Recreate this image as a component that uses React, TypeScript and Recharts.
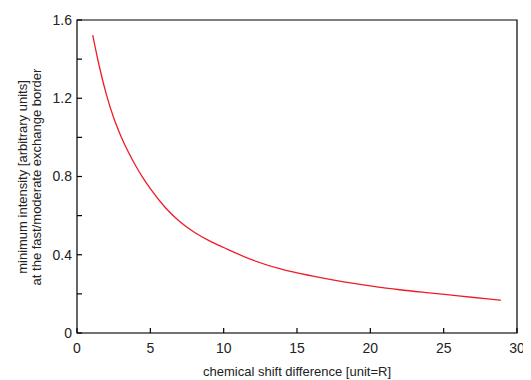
import { LineChart, Line, XAxis, YAxis, ReferenceArea } from "recharts"

const shift = [1.07, 1.5, 2, 2.5, 3, 3.5, 4, 4.5, 5, 6, 7, 8, 9, 10, 12, 14, 16, 18, 20, 22, 24, 26, 28, 28.9]
const intensity = [1.523, 1.37, 1.22, 1.1, 1.005, 0.925, 0.855, 0.793, 0.738, 0.643, 0.57, 0.515, 0.472, 0.437, 0.372, 0.325, 0.292, 0.264, 0.241, 0.221, 0.205, 0.19, 0.174, 0.167]

const xTicks = [0, 5, 10, 15, 20, 25, 30]
const yTicks = [0, 0.2, 0.4, 0.6, 0.8, 1.0, 1.2, 1.4, 1.6]

const data = shift.map((x, i) => ({ x, y: intensity[i] }))

const font = "'Liberation Sans', Arial, sans-serif"
const ink = "black"
const TICK = 5

const yLabel = (v: number) => {
  const k = Math.round(v * 10)
  if (k % 4 !== 0) return ""
  return k === 0 ? "0" : v.toFixed(1)
}

// ticks point inward, matlab style
const BottomTick = (p: any) => (
  <g>
    <path d={`M${p.x},${p.y - 10}v${-TICK}`} style={{ stroke: ink, strokeWidth: 1.2 }} fill="none" />
    <text x={p.x} y={p.y} dy="0.71em" textAnchor="middle" fontSize={14} fontFamily={font} fill="#222">
      {p.payload.value}
    </text>
  </g>
)

const TopTick = (p: any) => <path d={`M${p.x},${p.y}v${TICK}`} style={{ stroke: ink, strokeWidth: 1.2 }} fill="none" />

const LeftTick = (p: any) => (
  <g>
    <path d={`M${p.x + 5},${p.y}h${TICK}`} style={{ stroke: ink, strokeWidth: 1.2 }} fill="none" />
    <text x={p.x} y={p.y} dy="0.355em" textAnchor="end" fontSize={14} fontFamily={font} fill="#222">
      {yLabel(p.payload.value)}
    </text>
  </g>
)

const RightTick = (p: any) => <path d={`M${p.x - TICK},${p.y}h${TICK}`} style={{ stroke: ink, strokeWidth: 1.2 }} fill="none" />

const YTitle = () => (
  <g fontFamily={font} fontSize={13} fill="#222">
    <text transform="translate(22,177) rotate(-90)" textAnchor="middle" dominantBaseline="central">
      minimum intensity [arbitrary units]
    </text>
    <text transform="translate(36,177) rotate(-90)" textAnchor="middle" dominantBaseline="central">
      at the fast/moderate exchange border
    </text>
  </g>
)

export default function App() {
  return (
    <div style={{ marginLeft: -8, marginTop: -8, width: 531, height: 380, background: "#fff" }}>
      <LineChart width={531} height={380} data={data} margin={{ top: 20, right: 14, bottom: 0, left: 0 }}>
        <XAxis
          xAxisId="bottom"
          dataKey="x"
          type="number"
          domain={[0, 30]}
          ticks={xTicks}
          interval={0}
          height={47}
          tickSize={0}
          tickMargin={10}
          tickLine={false}
          axisLine
          tick={BottomTick}
          label={{ value: "chemical shift difference [unit=R]", position: "insideBottom", offset: 4, fill: "#222", fontSize: 13, fontFamily: font }}
        />
        <XAxis
          xAxisId="top"
          orientation="top"
          dataKey="x"
          type="number"
          domain={[0, 30]}
          ticks={xTicks}
          interval={0}
          height={0}
          tickSize={0}
          tickMargin={0}
          tickLine={false}
          axisLine
          tick={TopTick}
        />
        <YAxis
          yAxisId="left"
          type="number"
          domain={[0, 1.6]}
          ticks={yTicks}
          interval={0}
          width={77}
          tickSize={0}
          tickMargin={5}
          tickLine={false}
          axisLine
          tick={LeftTick}
          label={{ content: () => <YTitle /> }}
        />
        <YAxis
          yAxisId="right"
          orientation="right"
          type="number"
          domain={[0, 1.6]}
          ticks={yTicks}
          interval={0}
          width={0}
          tickSize={0}
          tickMargin={0}
          tickLine={false}
          axisLine
          tick={RightTick}
        />
        <ReferenceArea
          xAxisId="bottom"
          yAxisId="left"
          x1={0}
          x2={30}
          y1={0}
          y2={1.6}
          fill="none"
          stroke="#000000"
          strokeWidth={1.2}
          ifOverflow="visible"
        />
        <Line
          xAxisId="bottom"
          yAxisId="left"
          type="monotone"
          dataKey="y"
          stroke="#ee1c25"
          strokeWidth={1.3}
          dot={false}
          isAnimationActive={false}
        />
      </LineChart>
    </div>
  )
}
